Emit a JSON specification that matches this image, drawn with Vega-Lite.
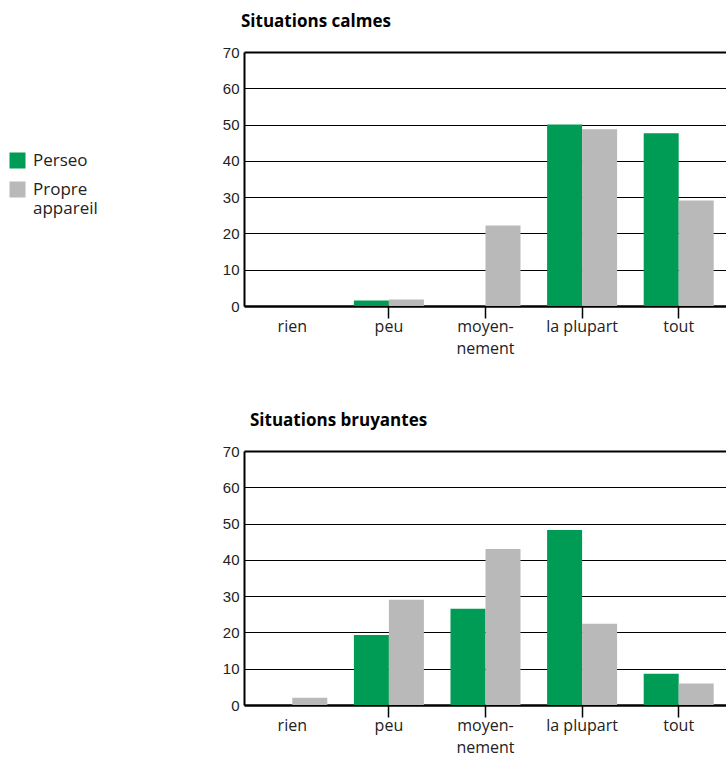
{
  "$schema": "https://vega.github.io/schema/vega-lite/v6.json",
  "padding": {"left": 9, "top": 13, "right": 0, "bottom": 4},
  "background": "white",
  "spacing": 56,
  "config": {
    "font": "Open Sans",
    "view": {"stroke": null},
    "axisX": {
      "title": null,
      "labelAngle": 0,
      "domainColor": "black",
      "domainWidth": 2.5,
      "tickColor": {"condition": {"test": "datum.value === 'rien'", "value": "transparent"}, "value": "black"},
      "tickSize": 12,
      "tickWidth": 1.5,
      "tickOffset": -48.3,
      "labelFont": "Open Sans",
      "labelFontSize": 16,
      "labelColor": "#222222",
      "labelPadding": 0,
      "labelBaseline": "top",
      "labelLineHeight": 22,
      "labelExpr": "datum.value === 'moyennement' ? ['moyen-', 'nement'] : datum.label"
    },
    "axisY": {
      "title": "%",
      "titleFont": "Open Sans",
      "titleFontSize": 12,
      "titleFontWeight": "normal",
      "titleColor": "#222222",
      "titlePadding": 8,
      "values": [0, 10, 20, 30, 40, 50, 60, 70],
      "grid": true,
      "gridColor": "black",
      "gridOpacity": 1,
      "gridWidth": {"condition": {"test": "datum.value === 70", "value": 2}, "value": 1},
      "ticks": false,
      "domainColor": "black",
      "domainWidth": 2,
      "labelFont": "Liberation Sans",
      "labelFontSize": 15,
      "labelColor": "#222222",
      "labelPadding": 5
    },
    "title": {"anchor": "start", "frame": "group", "font": "Open Sans", "fontSize": 17, "fontWeight": "bold", "color": "black"}
  },
  "datasets": {
    "calmes": [
      {"cat": "rien", "app": "Perseo", "pct": 0},
      {"cat": "rien", "app": "Propre appareil", "pct": 0},
      {"cat": "peu", "app": "Perseo", "pct": 1.5},
      {"cat": "peu", "app": "Propre appareil", "pct": 1.8},
      {"cat": "moyennement", "app": "Perseo", "pct": 0},
      {"cat": "moyennement", "app": "Propre appareil", "pct": 22.2},
      {"cat": "la plupart", "app": "Perseo", "pct": 50},
      {"cat": "la plupart", "app": "Propre appareil", "pct": 48.7},
      {"cat": "tout", "app": "Perseo", "pct": 47.6},
      {"cat": "tout", "app": "Propre appareil", "pct": 29.1}
    ],
    "bruyantes": [
      {"cat": "rien", "app": "Perseo", "pct": 0},
      {"cat": "rien", "app": "Propre appareil", "pct": 2},
      {"cat": "peu", "app": "Perseo", "pct": 19.3},
      {"cat": "peu", "app": "Propre appareil", "pct": 29},
      {"cat": "moyennement", "app": "Perseo", "pct": 26.5},
      {"cat": "moyennement", "app": "Propre appareil", "pct": 43},
      {"cat": "la plupart", "app": "Perseo", "pct": 48.2},
      {"cat": "la plupart", "app": "Propre appareil", "pct": 22.4},
      {"cat": "tout", "app": "Perseo", "pct": 8.6},
      {"cat": "tout", "app": "Propre appareil", "pct": 5.9}
    ]
  },
  "resolve": {"legend": {"color": "independent"}},
  "vconcat": [
    {
      "title": {"text": "Situations calmes", "dx": -3, "offset": 14},
      "width": 483,
      "height": 254,
      "data": {"name": "calmes"},
      "mark": {"type": "bar"},
      "encoding": {
        "x": {"field": "cat", "type": "nominal", "sort": ["rien", "peu", "moyennement", "la plupart", "tout"], "scale": {"paddingInner": 0, "paddingOuter": 0}},
        "xOffset": {"field": "app", "type": "nominal", "sort": ["Perseo", "Propre appareil"], "scale": {"paddingInner": 0, "paddingOuter": 0.38}},
        "y": {"field": "pct", "type": "quantitative", "scale": {"domain": [0, 70]}},
        "color": {
          "field": "app", "type": "nominal",
          "scale": {"domain": ["Perseo", "Propre appareil"], "range": ["#009B55", "#B9B9B9"]},
          "legend": {
            "title": null, "orient": "none", "legendX": -235, "legendY": 100,
            "symbolType": "square", "symbolSize": 256, "symbolStrokeWidth": 0,
            "labelFont": "Open Sans", "labelFontSize": 17, "labelColor": "#222222",
            "labelLineHeight": 20, "labelOffset": 7, "rowPadding": 11, "padding": 0,
            "labelExpr": "datum.value === 'Propre appareil' ? ['Propre', 'appareil'] : datum.label"
          }
        }
      }
    },
    {
      "title": {"text": "Situations bruyantes", "dx": 6, "offset": 14},
      "width": 483,
      "height": 254,
      "data": {"name": "bruyantes"},
      "mark": {"type": "bar"},
      "encoding": {
        "x": {"field": "cat", "type": "nominal", "sort": ["rien", "peu", "moyennement", "la plupart", "tout"], "scale": {"paddingInner": 0, "paddingOuter": 0}},
        "xOffset": {"field": "app", "type": "nominal", "sort": ["Perseo", "Propre appareil"], "scale": {"paddingInner": 0, "paddingOuter": 0.38}},
        "y": {"field": "pct", "type": "quantitative", "scale": {"domain": [0, 70]}},
        "color": {
          "field": "app", "type": "nominal",
          "scale": {"domain": ["Perseo", "Propre appareil"], "range": ["#009B55", "#B9B9B9"]},
          "legend": null
        }
      }
    }
  ]
}
